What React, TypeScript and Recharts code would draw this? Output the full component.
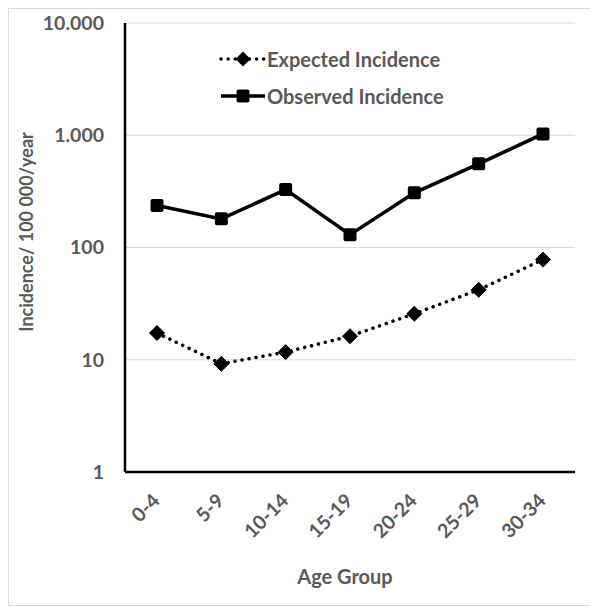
import { LineChart, Line, XAxis, YAxis, CartesianGrid } from 'recharts';

const ageGroups = ['0-4', '5-9', '10-14', '15-19', '20-24', '25-29', '30-34'];
const expectedIncidence = [17.3, 9.2, 11.7, 16.2, 25.7, 42, 78];
const observedIncidence = [237, 180, 328, 130, 307, 556, 1028];
const yTicks = [1, 10, 100, 1000, 10000];

const data = ageGroups.map((age, i) => ({
    age,
    expected: expectedIncidence[i],
    observed: observedIncidence[i],
}));

const FONT = 'Lato, "Open Sans", sans-serif';
const GREY = '#595959';

const fmt = (v: number) => String(v).replace(/\B(?=(\d{3})+(?!\d))/g, '.');

const SquareDot = (props: any) => {
    const { cx, cy } = props;
    if (cx == null || cy == null) return null;
    return <rect key={`sq-${cx}`} x={cx - 6.5} y={cy - 6.5} width={13} height={13} rx={2} fill="#000" />;
};

const DiamondDot = (props: any) => {
    const { cx, cy } = props;
    if (cx == null || cy == null) return null;
    const r = 7.5;
    return (
        <polygon
            key={`dm-${cx}`}
            points={`${cx},${cy - r} ${cx + r},${cy} ${cx},${cy + r} ${cx - r},${cy}`}
            fill="#000"
            stroke="#000"
            strokeWidth={1}
            strokeLinejoin="round"
        />
    );
};

const AgeTick = (props: any) => {
    const { x, y, payload } = props;
    return (
        <text
            transform={`translate(${x + 4},${y + 22}) rotate(-45)`}
            textAnchor="end"
            fill={GREY}
            fontFamily={FONT}
            fontWeight={700}
            fontSize={19.5}
        >
            {payload.value}
        </text>
    );
};

const LegendBox = () => (
    <div
        style={{
            position: 'absolute',
            top: 31,
            left: 210,
            fontFamily: FONT,
            fontWeight: 700,
            fontSize: 20,
            color: GREY,
            pointerEvents: 'none',
        }}
    >
        <div style={{ display: 'flex', alignItems: 'center', height: 37 }}>
            <svg width={48} height={20}>
                <line x1={2} y1={10} x2={46} y2={10} stroke="#000" strokeWidth={3.5} strokeDasharray="0.1 7" strokeLinecap="round" />
                <polygon points="24,2.5 31.5,10 24,17.5 16.5,10" fill="#000" />
            </svg>
            <span style={{ marginLeft: 0 }}>Expected Incidence</span>
        </div>
        <div style={{ display: 'flex', alignItems: 'center', height: 37 }}>
            <svg width={48} height={20}>
                <line x1={2} y1={10} x2={46} y2={10} stroke="#000" strokeWidth={3.5} />
                <rect x={17.5} y={3.5} width={13} height={13} rx={2} fill="#000" />
            </svg>
            <span style={{ marginLeft: 0 }}>Observed Incidence</span>
        </div>
    </div>
);

export default function App() {
    return (
        <div style={{ position: 'relative', width: 586, height: 596, border: '1px solid #d9d9d9', background: '#fff' }}>
            <LineChart width={586} height={596} data={data} margin={{ top: 14, right: 20, left: 0, bottom: 0 }}>
                <CartesianGrid vertical={false} stroke="#d9d9d9" strokeWidth={1} />
                <XAxis
                    dataKey="age"
                    interval={0}
                    height={133}
                    padding={{ left: 32, right: 32 }}
                    tick={<AgeTick />}
                    tickLine={false}
                    axisLine={{ stroke: '#000', strokeWidth: 2.5 }}
                    label={{
                        content: () => (
                            <text x={336} y={575} textAnchor="middle" fill={GREY} fontFamily={FONT} fontWeight={700} fontSize={20}>
                                Age Group
                            </text>
                        ),
                    }}
                />
                <YAxis
                    scale="log"
                    domain={[1, 10000]}
                    ticks={yTicks}
                    allowDataOverflow
                    width={116}
                    tickFormatter={fmt}
                    tickLine={false}
                    tickSize={0}
                    tickMargin={21}
                    tick={{ fill: GREY, fontFamily: FONT, fontWeight: 700, fontSize: 19.5 }}
                    axisLine={{ stroke: '#000', strokeWidth: 2.5 }}
                    label={{
                        content: () => (
                            <text
                                transform="translate(24,223) rotate(-90)"
                                textAnchor="middle"
                                fill={GREY}
                                fontFamily={FONT}
                                fontWeight={700}
                                fontSize={18}
                            >
                                Incidence/ 100 000/year
                            </text>
                        ),
                    }}
                />
                <Line
                    dataKey="observed"
                    stroke="#000"
                    strokeWidth={3.5}
                    dot={<SquareDot />}
                    isAnimationActive={false}
                />
                <Line
                    dataKey="expected"
                    stroke="#000"
                    strokeWidth={3.5}
                    strokeDasharray="0.1 7"
                    strokeLinecap="round"
                    dot={<DiamondDot />}
                    isAnimationActive={false}
                />
            </LineChart>
            <LegendBox />
        </div>
    );
}
